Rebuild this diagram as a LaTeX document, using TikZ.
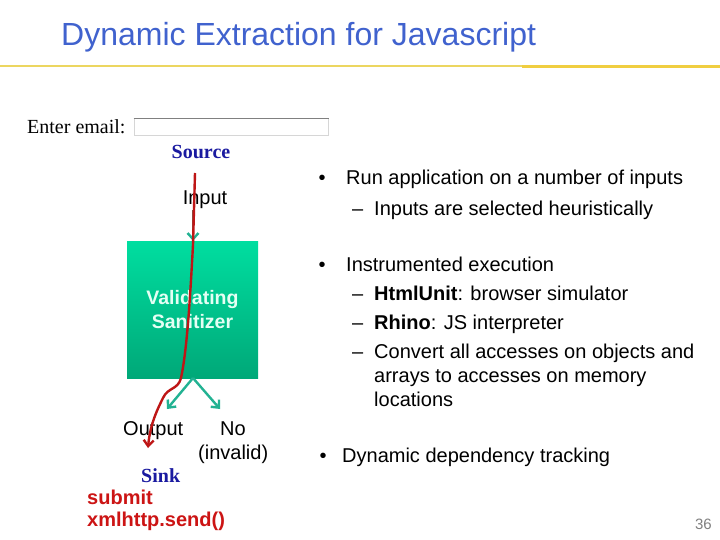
\documentclass[tikz,border=0pt]{standalone}
\usepackage{fontspec}
\setmainfont{Liberation Sans}
\newfontfamily\serifface{Liberation Serif}
\usetikzlibrary{arrows.meta}
\definecolor{titleblue}{RGB}{64,98,206}
\definecolor{rulegold}{RGB}{240,206,64}
\definecolor{rulegoldlight}{RGB}{236,214,96}
\definecolor{srcblue}{RGB}{26,26,160}
\definecolor{sinkred}{RGB}{204,20,20}
\definecolor{flowred}{RGB}{190,22,22}
\definecolor{tealarrow}{RGB}{34,178,146}
\definecolor{boxtop}{RGB}{0,222,160}
\definecolor{boxbot}{RGB}{0,168,120}
\definecolor{boxtext}{RGB}{228,255,244}
\definecolor{stemgray}{RGB}{120,96,80}
\begin{document}
\begin{tikzpicture}[x=1pt,y=-1pt,
  txt/.style={inner sep=0pt, font=\fontsize{20}{24}\selectfont},
  rt/.style={txt, anchor=base west},
  serifbold/.style={txt, font=\serifface\bfseries\fontsize{20}{24}\selectfont, text=srcblue},
  redbold/.style={txt, anchor=base west, font=\bfseries\fontsize{20}{24}\selectfont, text=sinkred},
  tealflow/.style={tealarrow, line width=2.4pt, -{Straight Barb[length=6pt,width=11pt,line width=2.4pt]}},
  redflow/.style={flowred, line width=2.4pt, -{Straight Barb[length=6pt,width=10pt,line width=2.4pt]}}
]
\useasboundingbox (0,0) rectangle (720,540);
\fill[white] (0,0) rectangle (720,540);

% title and rule
\node[anchor=base west, inner sep=0pt, text=titleblue,
  font=\fontsize{32}{36}\selectfont] (title) at (61,46) {Dynamic Extraction for Javascript};
\draw[rulegoldlight, line width=2pt] (0,66) -- (522,66);
\draw[rulegold, line width=3pt] (522,66.5) -- (720,66.5);

% input field
\node[anchor=base west, inner sep=0pt, font=\serifface\fontsize{20}{24}\selectfont] (enter) at (27,134) {Enter email:};
\node[draw={rgb,255:red,214;green,214;blue,214}, line width=1pt, minimum width=194pt, minimum height=17pt, inner sep=0pt] (field) at (231,127.5) {};
\draw[gray, line width=1.2pt] (field.north west) -- (field.north east);

% left diagram
\node[serifbold, anchor=base] (source) at (201,159) {Source};
\node[txt, anchor=base] (input) at (205,205) {Input};
\node[minimum width=131pt, minimum height=137pt, inner sep=0pt,
  top color=boxtop, bottom color=boxbot, align=center, text=boxtext,
  font=\bfseries\fontsize{19.5}{24}\selectfont] (san) at (192.5,309.5) {Validating\\Sanitizer};
\node[txt, anchor=base west] (output) at (123,435) {Output};
\node[txt, anchor=base west] (no) at (220,435) {No};
\node[txt, anchor=base west] (invalid) at (198,459) {(invalid)};
\node[serifbold, anchor=base west] (sink) at (141,482) {Sink};
\node[redbold] (submit) at (87,504) {submit};
\node[redbold] (send) at (87,526) {xmlhttp.send()};

\coordinate (stemtop) at (193,210);
\coordinate (split) at (193,378);
\coordinate (outend) at (167,409);
\coordinate (noend) at (220,409);
\coordinate (redstart) at (195,173);
\coordinate (redend) at (148,448);

\draw[stemgray, line width=2.4pt, -{Straight Barb[length=6pt,width=11pt,line width=2.4pt,color=tealarrow]}] (stemtop) -- (san.north -| stemtop);
\draw[tealflow] (split) -- (outend);
\draw[tealflow] (split) -- (noend);

\draw[redflow] (redstart) -- (193,245)
  .. controls (190,300) and (187,350) .. (181,378)
  .. controls (178,390) and (168,387) .. (163,398)
  .. controls (157,410) and (150,425) .. (redend);

% right text
\node[rt] (bul1) at (318.5,185) {•};
\node[rt] (t1) at (346,185) {Run application on a number of inputs};
\node[rt] (d1) at (352,215) {–};
\node[rt] (t2) at (374,215) {Inputs are selected heuristically};
\node[rt] (bul2) at (318.5,271) {•};
\node[rt] (t3) at (346,271) {Instrumented execution};
\node[rt] (d2) at (352,300) {–};
\node[rt] (t4) at (374,300) {\textbf{HtmlUnit}: browser simulator};
\node[rt] (d3) at (352,329) {–};
\node[rt] (t5) at (374,329) {\textbf{Rhino}: JS interpreter};
\node[rt] (d4) at (352,358) {–};
\node[rt] (t6) at (374,358) {Convert all accesses on objects and};
\node[rt] (t7) at (374,382) {arrays to accesses on memory};
\node[rt] (t8) at (374,406) {locations};
\node[rt] (bul3) at (319.5,462) {•};
\node[rt] (t9) at (342,462) {Dynamic dependency tracking};

\node[anchor=base east, inner sep=0pt, text=gray, font=\fontsize{15}{18}\selectfont] (page) at (712,529) {36};
\end{tikzpicture}
\end{document}
